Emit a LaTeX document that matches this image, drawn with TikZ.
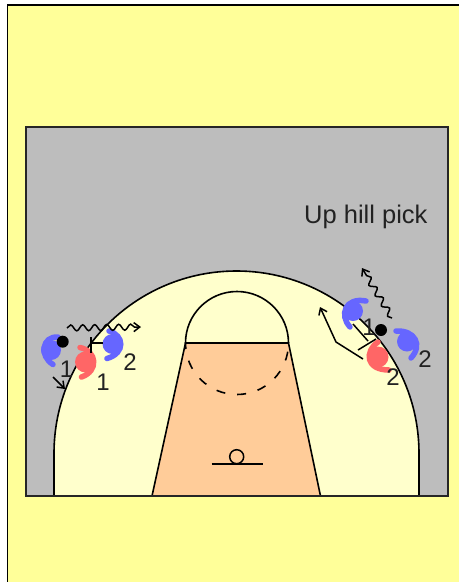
\documentclass[tikz,border=0pt]{standalone}
\usepackage{fontspec}
\setmainfont{Liberation Sans}
\usetikzlibrary{arrows.meta,decorations.pathmorphing}
\definecolor{pagecol}{HTML}{FFFF99}
\definecolor{courtcol}{HTML}{BDBDBD}
\definecolor{floorcol}{HTML}{FFFFCC}
\definecolor{keycol}{HTML}{FFCC99}
\definecolor{bluecol}{HTML}{6666FF}
\definecolor{redcol}{HTML}{FF6666}
\definecolor{inkcol}{HTML}{222222}
\tikzset{
    courtline/.style={draw=black, line width=1.6pt},
    move/.style={draw=black, line width=1.5pt, -{Straight Barb[length=6pt,width=9pt]}},
    dribble/.style={move, decorate, decoration={snake, amplitude=3pt, segment length=12pt, post length=6pt}},
    pick/.style={draw=black, line width=1.5pt},
    num/.style={text=inkcol, font=\fontsize{24}{24}\selectfont, inner sep=0pt},
    bluep/.style={draw=bluecol, line width=5.5pt, line cap=round},
    redp/.style={draw=redcol, line width=5.5pt, line cap=round}
}

\begin{document}
\begin{tikzpicture}[x=1pt, y=-1pt]
    \useasboundingbox (0, 0) rectangle (459, 582);
    % page
    \fill[pagecol] (7.5, 5) rectangle (459, 582);
    \draw[line width=1.4pt] (7.5, 582) -- (7.5, 5) -- (459, 5);
    % court
    \fill[courtcol] (26, 127) rectangle (448, 496);
    \draw[courtline, fill=floorcol] (54, 496) -- (54, 453.5) arc (-180:0:182.5) -- (419, 496);
    \draw[courtline, fill=keycol] (185.5, 343) -- (288.5, 343) -- (320.5, 496) -- (152, 496) -- cycle;
    \draw[courtline] (185.5, 343) arc (-180:0:51.5);
    \draw[courtline, dash pattern=on 9pt off 12pt, dash phase=3pt] (185.5, 343) arc (180:0:51.5);
    \draw[line width=1.8pt, draw=black!85] (26, 127) rectangle (448, 496);
    % basket
    \draw[line width=1.5pt] (211.5, 464) -- (263, 464);
    \draw[line width=1.5pt] (236.7, 456.7) circle (7);
    \node[text=inkcol, font=\fontsize{25.5}{25.5}\selectfont, anchor=west, inner sep=0pt] (title) at (304, 217) {Up hill pick};
    % left group
    \draw[bluep] (58, 337) .. controls (42, 336) and (39, 356) .. (53, 364.5);
    \fill[bluecol] (51, 350) circle (10);
    \draw[redp] (80, 347.5) .. controls (97, 351) and (99, 371) .. (81.5, 377);
    \fill[redcol] (85.5, 362) circle (10.5);
    \draw[bluep] (109, 331) .. controls (124, 335) and (126, 353) .. (107, 358.5);
    \fill[bluecol] (112.5, 344) circle (10);
    \fill (62.7, 341.7) circle (6);
    \coordinate (dribL) at (67, 328);
    \coordinate (dribLend) at (141, 327);
    \coordinate (cutL) at (53, 377);
    \coordinate (cutLend) at (65, 389);
    \draw[dribble] (dribL) -- (dribLend);
    \draw[move] (cutL) -- (cutLend);
    \draw[pick] (91, 337) -- (91, 353);
    \draw[pick] (91, 343) -- (103, 343);
    \node[num] (lblue) at (66.5, 369) {1};
    \node[num] (lred) at (103, 382) {1};
    \node[num] (ltwo) at (130, 362) {2};
    % right group
    \draw[bluep] (366, 301) .. controls (345, 297) and (339, 315) .. (350, 327);
    \fill[bluecol] (353, 311) circle (10);
    \draw[bluep] (396, 331) .. controls (415, 330) and (423, 345) .. (411, 358);
    \fill[bluecol] (407, 341.5) circle (10);
    \draw[redp] (378, 342) .. controls (364, 352) and (366, 370) .. (389, 370);
    \fill[redcol] (378, 357) circle (10.5);
    \fill (381, 330) circle (6);
    \coordinate (dribR) at (392, 318);
    \coordinate (dribRend) at (362, 268);
    \coordinate (cutR) at (363, 359);
    \coordinate (cutRmid) at (336, 342);
    \coordinate (cutRend) at (320, 307);
    \draw[dribble] (dribR) -- (dribRend);
    \draw[move] (cutR) -- (cutRmid) -- (cutRend);
    \draw[pick] (353, 324) -- (368, 341);
    \draw[pick] (358, 350) -- (376, 339);
    \node[num] (rblue) at (369, 327) {1};
    \node[num] (rtwo) at (425, 359) {2};
    \node[num] (rred) at (393, 377) {2};
\end{tikzpicture}
\end{document}
